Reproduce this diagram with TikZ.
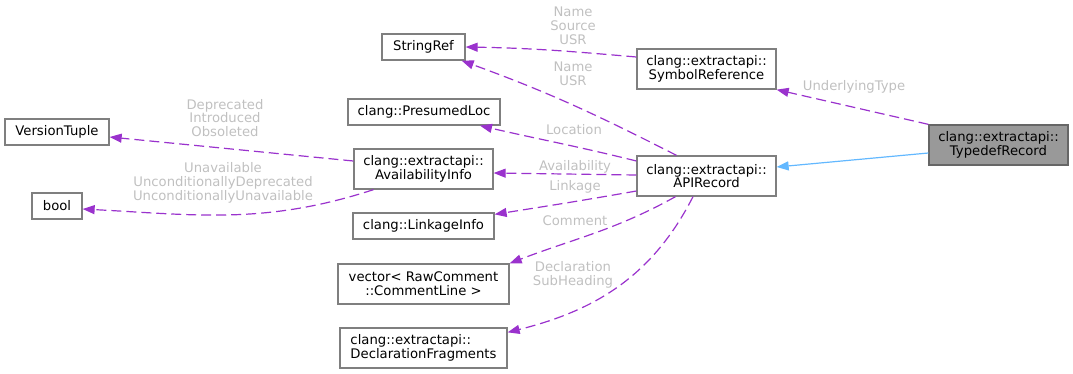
\documentclass[tikz,border=0pt]{standalone}
\usepackage{fontspec}
\setmainfont{DejaVu Sans}
\usetikzlibrary{arrows.meta}
\definecolor{edgepurple}{HTML}{9A32CD}
\definecolor{inheritblue}{HTML}{63B8FF}
\definecolor{boxborder}{HTML}{7F7F7F}
\definecolor{curborder}{HTML}{666666}
\definecolor{labelgrey}{HTML}{C0C0C0}
\definecolor{selfill}{HTML}{999999}

\begin{document}
\begin{tikzpicture}[x=1pt,y=1pt,
  every node/.style={font=\fontsize{13.2}{13.8}\selectfont},
  cls/.style={draw=boxborder, line width=1.3pt, fill=white, inner sep=0pt,
              align=center, minimum height=26pt},
  cls2/.style={cls, minimum height=40pt},
  current/.style={cls2, draw=curborder, fill=selfill},
  member/.style={draw=edgepurple, line width=1.2pt, dash pattern=on 10pt off 5pt,
                 -{Triangle[length=12pt,width=9pt]}},
  inherit/.style={draw=inheritblue, line width=1.2pt,
                 -{Triangle[length=12pt,width=9pt]}},
  lbl/.style={text=labelgrey, align=center, inner sep=0pt}
]
\useasboundingbox (0,0) rectangle (1073,-373);

% classes
\node[cls,  minimum width=104pt] (vt)     at (57,-132)    {VersionTuple};
\node[cls,  minimum width=50pt]  (bool)   at (57,-206)    {bool};
\node[cls,  minimum width=83pt]  (sref)   at (423.5,-47)  {StringRef};
\node[cls,  minimum width=152pt] (ploc)   at (424,-112)   {clang::PresumedLoc};
\node[cls2, minimum width=139pt] (avail)  at (423.5,-169) {clang::extractapi::\\AvailabilityInfo};
\node[cls2, minimum width=139pt] (symref) at (706.5,-69)  {clang::extractapi::\\SymbolReference};
\node[cls2, minimum width=139pt] (api)    at (706.5,-176) {clang::extractapi::\\APIRecord};
\node[current, minimum width=139pt] (tdef) at (998.5,-145) {clang::extractapi::\\TypedefRecord};
\node[cls,  minimum width=141pt] (link)   at (423.5,-226) {clang::LinkageInfo};
\node[cls2, minimum width=171pt] (vec)    at (423.5,-284) {vector< RawComment\\::CommentLine >};
\node[cls2, minimum width=167pt, align=left] (decl) at (423.5,-348) {clang::extractapi::\\DeclarationFragments};

% member relations
\draw[member] ([yshift=12pt]symref.west) to[out=175,in=-1] (sref.east);
\draw[member] ([xshift=-30pt]api.north) to[out=153,in=-20] ([xshift=-4pt]sref.south east);
\draw[member] ([yshift=15pt]api.west) to[out=166,in=-13] ([xshift=56pt]ploc.south);
\draw[member] ([yshift=1pt]api.west) -- ([yshift=-4pt]avail.east);
\draw[member] ([yshift=-15pt]api.west) to[out=190,in=9] ([yshift=-2pt]link.north east);
\draw[member] ([xshift=-31pt]api.south) to[out=209,in=21] (vec.north east);
\draw[member] ([xshift=-13.5pt]api.south) to[out=243,in=14] ([yshift=-5pt]decl.north east);
\draw[member] ([yshift=8pt]avail.west) -- ([yshift=-5pt]vt.east);
\draw[member] ([xshift=-50pt]avail.south) to[out=198,in=-3] ([yshift=-3pt]bool.east);
\draw[member] (tdef.north west) -- (symref.south east);

% inheritance
\draw[inherit] ([yshift=-8pt]tdef.west) -- ([yshift=9pt]api.east);

% edge labels
\node[lbl] (l1) at (573,-26)  {Name\\Source\\USR};
\node[lbl] (l2) at (573,-73.5){Name\\USR};
\node[lbl] (l3) at (574,-130) {Location};
\node[lbl] (l4) at (575,-167) {Availability};
\node[lbl] (l5) at (575,-187) {Linkage};
\node[lbl] (l6) at (575,-221) {Comment};
\node[lbl] (l7) at (573,-275) {Declaration\\SubHeading};
\node[lbl] (l8) at (225,-118) {Deprecated\\Introduced\\Obsoleted};
\node[lbl] (l9) at (223,-183) {Unavailable\\UnconditionallyDeprecated\\UnconditionallyUnavailable};
\node[lbl] (l10) at (854,-87) {UnderlyingType};
\end{tikzpicture}
\end{document}
